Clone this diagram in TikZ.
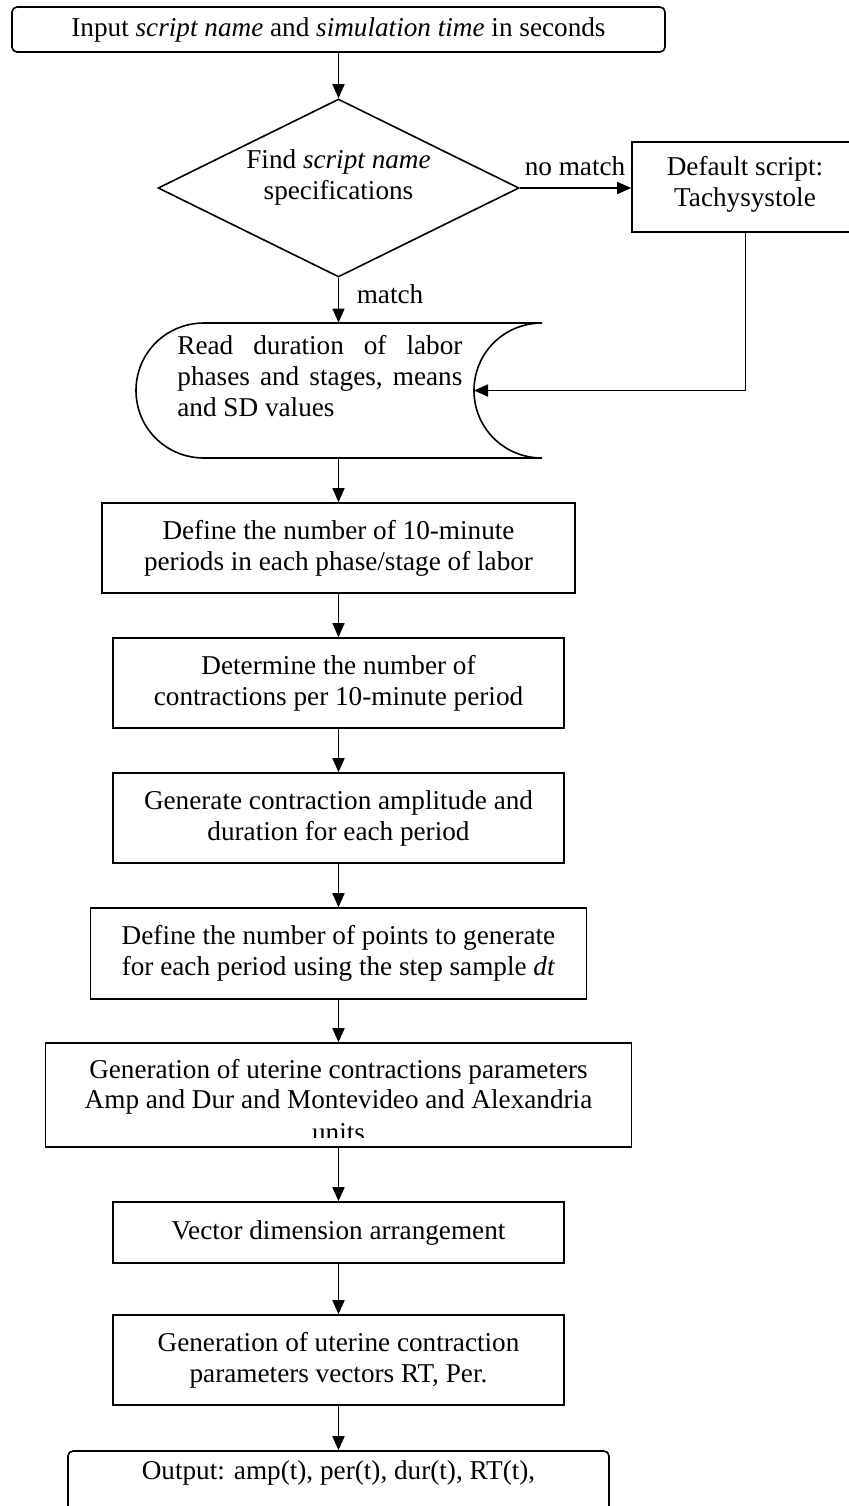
\documentclass[tikz,border=0pt]{standalone}
\usepackage{fontspec}
\setmainfont{Liberation Serif}
\usetikzlibrary{shapes.geometric,arrows.meta}
\begin{document}
\begin{tikzpicture}[x=0.5pt,y=-0.5pt,
  every node/.style={font=\fontsize{13.6}{15.5}\selectfont},
  proc/.style={draw, line width=0.8pt, align=center, inner sep=0pt, minimum height=45pt},
  term/.style={proc, rounded corners=2.5pt},
  conn/.style={line width=0.8pt, -{Triangle[length=7pt,width=6pt]}},
  lbl/.style={inner sep=0pt, align=center}]
\useasboundingbox (0,0) rectangle (849,1506);
\fill[white] (0,0) rectangle (849,1506);

% start
\node[term, minimum width=326.5pt, minimum height=22.5pt] (input) at (338.5,29.5)
  {Input \textit{script name} and \textit{simulation time} in seconds};

% decision
\node[draw, diamond, line width=0.8pt, minimum width=180.5pt, minimum height=89pt, inner sep=0pt] (find) at (338.5,188) {};
\node[lbl] (findtxt) at (338.5,177) {Find \textit{script name}\\specifications};

% default script (clipped by the page edge)
\begin{scope}
  \clip (0,0) rectangle (849,1506);
  \node[proc, minimum width=113.5pt] (def) at (745.5,187) {};
  \node[term, minimum width=270.5pt, minimum height=40pt] (out) at (338.5,1491) {};
\end{scope}
\node[lbl] (deftxt) at (745,184) {Default script:\\Tachysystole};

% stored data
\node[minimum width=203pt, minimum height=67.5pt, inner sep=0pt] (read) at (338.5,390.5) {};
\draw[line width=0.8pt] (204,323) -- (542,323)
  .. controls (504.4,323) and (474,352.7) .. (474,390.5)
  .. controls (474,428.3) and (504.4,458) .. (542,458)
  -- (204,458)
  .. controls (166.4,458) and (136,428.3) .. (136,390.5)
  .. controls (136,352.7) and (166.4,323) .. cycle;
\coordinate (readin) at (474,390.5);
\node[lbl, anchor=base west] (r1) at (177,354) {\hbox to 142.5pt{Read\hfill duration\hfill of\hfill labor}};
\node[lbl, anchor=base west] (r2) at (177,385) {\hbox to 142.5pt{phases\hfill and\hfill stages,\hfill means}};
\node[lbl, anchor=base west] (r3) at (177,416) {and SD values};

% process boxes
\node[proc, minimum width=236.5pt] (b1) at (338.5,548) {Define the number of 10-minute\\periods in each phase/stage of labor};
\node[proc, minimum width=225.5pt] (b2) at (338.5,683) {Determine the number of\\contractions per 10-minute period};
\node[proc, minimum width=225.5pt] (b3) at (338.5,818) {Generate contraction amplitude and\\duration for each period};
\node[proc, minimum width=248pt, minimum height=45.5pt] (b4) at (338.5,953.5) {Define the number of points to generate\\for each period using the step sample \textit{dt}};
\node[proc, minimum width=293pt, minimum height=52pt] (b5) at (338.5,1095) {};
\begin{scope}
  \clip (45,1043) rectangle (631,1137);
  \node[lbl, anchor=base] (b5a) at (338.5,1078) {Generation of uterine contractions parameters};
  \node[lbl, anchor=base] (b5b) at (338.5,1108) {Amp and Dur and Montevideo and Alexandria};
  \node[lbl, anchor=base] (b5c) at (338.5,1141) {units};
\end{scope}
\node[proc, minimum width=225.5pt, minimum height=30.5pt] (b6) at (338.5,1232.5) {Vector dimension arrangement};
\node[proc, minimum width=225.5pt] (b7) at (338.5,1360) {Generation of uterine contraction\\parameters vectors RT, Per.};
\node[lbl] (outtxt) at (338.5,1473) {Output: amp(t), per(t), dur(t), RT(t),};

% connectors
\draw[conn] (input.south) -- (find.north);
\draw[conn] (find.east) -- (find.east -| def.west);
\node[lbl] (nomatch) at (575,166) {no match};
\draw[conn] (find.south) -- (read.north);
\node[lbl] (match) at (390,294) {match};
\draw[conn] (def.south) |- (readin);
\draw[conn] (read.south) -- (b1.north);
\draw[conn] (b1.south) -- (b2.north);
\draw[conn] (b2.south) -- (b3.north);
\draw[conn] (b3.south) -- (b4.north);
\draw[conn] (b4.south) -- (b5.north);
\draw[conn] (b5.south) -- (b6.north);
\draw[conn] (b6.south) -- (b7.north);
\draw[conn] (b7.south) -- (out.north);
\end{tikzpicture}
\end{document}
